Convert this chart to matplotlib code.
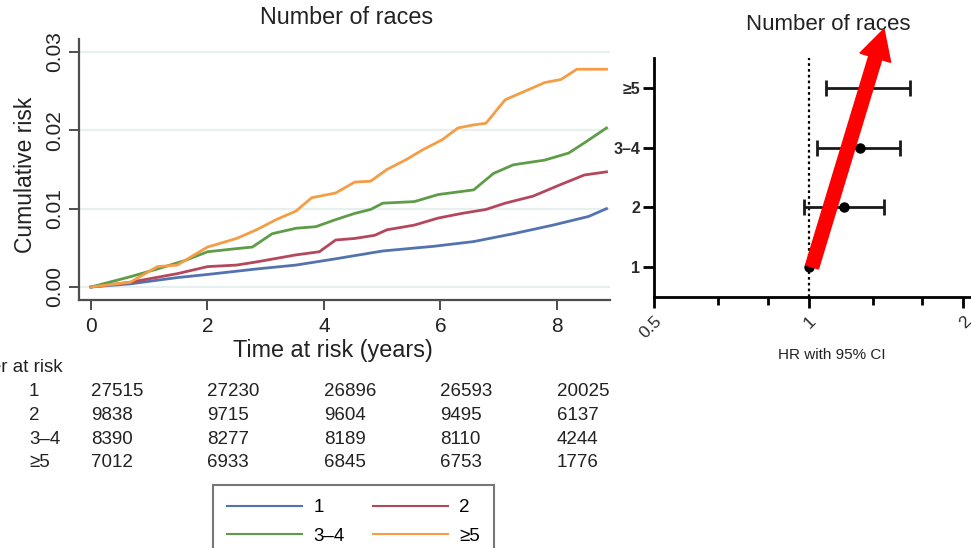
"""
Cumulative risk by number of races, with HR forest plot
"""
import numpy as np
import matplotlib
matplotlib.use('Agg')
import matplotlib.pyplot as plt
from matplotlib.patches import FancyArrow
from matplotlib.transforms import IdentityTransform, blended_transform_factory

plt.rcParams['font.family'] = ['Liberation Sans', 'DejaVu Sans']

W, H = 971, 548

# Cumulative risk curves
t_1 = [0, 0.67, 1.48, 2.0, 2.84, 3.52, 4.2, 5.01, 5.89, 6.57, 7.25, 7.93, 8.54, 8.85]
risk_1 = [0, 0.0004, 0.0012, 0.0016, 0.0023, 0.0028, 0.0036, 0.0046, 0.0052,
          0.0058, 0.0068, 0.0079, 0.0090, 0.0100]

t_2 = [0, 0.67, 1.48, 2.0, 2.5, 2.84, 3.52, 3.92, 4.2, 4.53, 4.87, 5.08, 5.55,
       5.96, 6.37, 6.78, 7.11, 7.59, 8.07, 8.47, 8.85]
risk_2 = [0, 0.0006, 0.0017, 0.0026, 0.0028, 0.0032, 0.0041, 0.0045, 0.0060,
          0.0062, 0.0066, 0.0073, 0.0079, 0.0088, 0.0094, 0.0099, 0.0107,
          0.0116, 0.0131, 0.0143, 0.0147]

t_34 = [0, 0.67, 1.14, 1.62, 2.0, 2.5, 2.77, 3.11, 3.52, 3.86, 4.2, 4.53, 4.8,
        5.01, 5.55, 5.96, 6.57, 6.91, 7.25, 7.79, 8.2, 8.47, 8.85]
risk_34 = [0, 0.0013, 0.0023, 0.0034, 0.0045, 0.0049, 0.0051, 0.0068, 0.0075,
           0.0077, 0.0086, 0.0094, 0.0099, 0.0107, 0.0109, 0.0118, 0.0124,
           0.0145, 0.0156, 0.0162, 0.0171, 0.0184, 0.0203]

t_5 = [0, 0.67, 1.14, 1.48, 2.0, 2.5, 2.84, 3.18, 3.52, 3.79, 4.2, 4.53, 4.8,
       5.08, 5.42, 5.69, 6.03, 6.3, 6.57, 6.78, 7.11, 7.45, 7.79, 8.07, 8.34, 8.85]
risk_5 = [0, 0.0006, 0.0026, 0.0028, 0.0051, 0.0062, 0.0073, 0.0086, 0.0097,
          0.0114, 0.0120, 0.0134, 0.0135, 0.0150, 0.0163, 0.0175, 0.0188,
          0.0203, 0.0207, 0.0209, 0.0239, 0.0250, 0.0261, 0.0265, 0.0278, 0.0278]

groups = ['1', '2', '3–4', '≥5']
colors = ['#5373b0', '#b4475c', '#5e9c48', '#f59d45']

# Number at risk table
risk_times = [0, 2, 4, 6, 8]
at_risk_1 = [27515, 27230, 26896, 26593, 20025]
at_risk_2 = [9838, 9715, 9604, 9495, 6137]
at_risk_34 = [8390, 8277, 8189, 8110, 4244]
at_risk_5 = [7012, 6933, 6845, 6753, 1776]

# Hazard ratios with 95% CI
hr_labels = ['1', '2', '3–4', '≥5']
hr_pos = [1, 2, 3, 4]
hr = [1.00, 1.17, 1.26, 1.30]
ci_low = [1.00, 0.98, 1.04, 1.08]
ci_high = [1.00, 1.40, 1.51, 1.58]


def px(x, y):
    # pixel position (from top-left) to figure fraction
    return x / W, 1 - y / H


fig = plt.figure(figsize=(W / 100, H / 100), dpi=100)
txt = '#222222'

# ---- Left: cumulative risk ----
ax = fig.add_axes([79 / W, 1 - 300 / H, (610 - 79) / W, (300 - 39) / H])
grey = '#4d4d4d'
for yv in [0, 0.01, 0.02, 0.03]:
    ax.axhline(yv, color='#e6f0ef', lw=1.6, zorder=0)

lines = []
curves = [(t_1, risk_1), (t_2, risk_2), (t_34, risk_34), (t_5, risk_5)]
for (t, r), c, g in zip(curves, colors, groups):
    ln, = ax.plot(t, r, color=c, lw=2.0, label=g)
    lines.append(ln)

ax.set_xlim(-0.206, 8.91)
ax.set_ylim(-0.00166, 0.03166)
ax.set_xticks([0, 2, 4, 6, 8])
ax.set_yticks([0, 0.01, 0.02, 0.03])
ax.set_yticklabels(['0.00', '0.01', '0.02', '0.03'], rotation=90, va='center')
for s in ['top', 'right']:
    ax.spines[s].set_visible(False)
for s in ['left', 'bottom']:
    ax.spines[s].set_color(grey)
    ax.spines[s].set_linewidth(1.6)
ax.tick_params(direction='out', length=7, width=1.4, color=grey,
               labelsize=15, labelcolor=txt, pad=5)
ax.tick_params(axis='y', pad=3.5)

fig.text(*px(347, 17), 'Number of races', ha='center', va='center', fontsize=16.8,
         color=txt)
fig.text(*px(333, 350), 'Time at risk (years)', ha='center', va='center',
         fontsize=16.8, color=txt)
fig.text(*px(25, 175), 'Cumulative risk', ha='center', va='center', rotation=90,
         fontsize=16.5, color=txt)

# risk table
trans = blended_transform_factory(ax.transData, fig.transFigure)
fig.text(*px(63, 368), 'Number at risk', ha='right', va='center', fontsize=13.5,
         color=txt)
table_rows = [at_risk_1, at_risk_2, at_risk_34, at_risk_5]
row_y = [392, 415.5, 439, 462.5]
for g, vals, yy in zip(groups, table_rows, row_y):
    fig.text(*px(29, yy), g, ha='left', va='center', fontsize=13.5, color=txt)
    for t, v in zip(risk_times, vals):
        ax.text(t, 1 - yy / H, str(v), transform=trans, ha='left', va='center',
                fontsize=13.5, color=txt, clip_on=False)

# legend filled row by row: 1, 2 / 3-4, >=5
order = [0, 2, 1, 3]
leg = fig.legend([lines[i] for i in order], [groups[i] for i in order],
                 loc='upper left', bbox_to_anchor=px(213, 485), ncol=2,
                 fontsize=13.5, frameon=True, fancybox=False, handlelength=4.0,
                 columnspacing=1.5, borderpad=0.75, labelspacing=0.62,
                 handletextpad=0.6, borderaxespad=0)
leg.get_frame().set_edgecolor('#555555')
leg.get_frame().set_linewidth(1.5)
for line in leg.get_lines():
    line.set_linewidth(1.5)

# ---- Right: forest plot ----
ax2 = fig.add_axes([654 / W, 1 - 297 / H, (W - 654) / W, (297 - 58) / H])
ax2.set_xscale('log', base=2)
ax2.set_xlim(0.5, 2.073)
ax2.set_ylim(0.5, 4.5)
ax2.axvline(1, color='black', lw=1.6, ls=(0, (1.2, 1.4)), zorder=1)

err = [np.array(hr[1:]) - np.array(ci_low[1:]),
       np.array(ci_high[1:]) - np.array(hr[1:])]
ax2.errorbar(hr[1:], hr_pos[1:], xerr=err, fmt='none', ecolor='#1a1a1a',
             elinewidth=2, capsize=5.5, capthick=2, zorder=2)
ax2.plot(hr, hr_pos, 'o', color='black', ms=6.5, zorder=3)

ax2.set_yticks(hr_pos)
ax2.set_yticklabels(hr_labels, fontweight='bold')
ax2.set_xticks([0.5, 1, 2])
ax2.set_xticklabels(['0.5', '1', '2'], rotation=45, ha='right', va='top',
                    rotation_mode='anchor')
ax2.set_xticks([2 / 3, 5 / 6, 4 / 3, 5 / 3], minor=True)
ax2.xaxis.set_minor_formatter(plt.NullFormatter())
for s in ['top', 'right']:
    ax2.spines[s].set_visible(False)
for s in ['left', 'bottom']:
    ax2.spines[s].set_linewidth(2)
ax2.tick_params(axis='both', which='major', direction='out', length=8, width=2,
                labelcolor='#2a2a2a')
ax2.tick_params(axis='y', pad=2, labelsize=11.5)
ax2.tick_params(axis='x', pad=4, labelsize=12.5)
ax2.tick_params(axis='x', which='minor', direction='out', length=6, width=2)

fig.text(*px(828, 25), 'Number of races', ha='center', va='center',
         fontsize=16, color=txt)
fig.text(*px(832, 355), 'HR with 95% CI', ha='center', va='center',
         fontsize=11, color=txt)

# red highlight arrow
tail_x, tail_y = 812, H - 267
tip_x, tip_y = 884, H - 29
arrow = FancyArrow(tail_x, tail_y, tip_x - tail_x, tip_y - tail_y, width=13.5,
                   head_width=32, head_length=30, length_includes_head=True,
                   color='#ff0000', transform=IdentityTransform(), zorder=10)
fig.add_artist(arrow)

fig.savefig('out.png', dpi=100)
